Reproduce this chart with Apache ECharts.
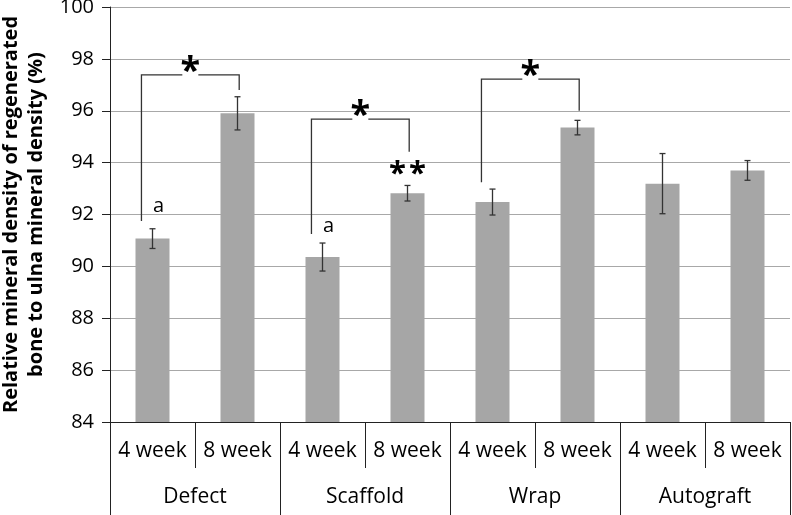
<html>
    <head>
        <meta charset="utf-8">
        <script src="https://cdn.jsdelivr.net/npm/echarts@6/dist/echarts.min.js"></script>
    </head>
    <body style="margin:0">
        <style>
            html, body, #main {
                width: 792px;
                height: 515px;
                margin: 0;
            }
        </style>
        <div id="main"></div>
        <script>
            var weeks = ['4 week', '8 week', '4 week', '8 week', '4 week', '8 week', '4 week', '8 week'];
            var groups = ['Defect', 'Scaffold', 'Wrap', 'Autograft'];
            var means = [91.07, 95.90, 90.36, 92.82, 92.48, 95.35, 93.19, 93.70];
            var errors = [0.38, 0.64, 0.54, 0.30, 0.50, 0.28, 1.16, 0.38];

            // significance brackets: left bar, right bar, left foot, top, right foot
            var bracketLeft = [0, 2, 4];
            var bracketRight = [1, 3, 5];
            var bracketLeftFoot = [91.75, 91.25, 93.24];
            var bracketTop = [97.38, 95.68, 97.22];
            var bracketRightFoot = [96.8, 94.42, 96.0];

            // letter / star marks above bars
            var markBar = [0, 2, 3];
            var markValue = [92.33, 91.56, 93.55];
            var markText = ['a', 'a', '**'];

            var font = '"Open Sans", sans-serif';
            var chart = echarts.init(document.getElementById('main'));

            var errData = means.map(function (m, i) {
                return [i, m - errors[i], m + errors[i]];
            });
            var bracketData = bracketLeft.map(function (l, i) {
                return [l, bracketRight[i], bracketLeftFoot[i], bracketTop[i], bracketRightFoot[i]];
            });
            var markData = markBar.map(function (b, i) {
                return [b, markValue[i], markText[i]];
            });

            chart.setOption({
                animation: false,
                grid: { left: 110, right: 2, top: 7, bottom: 93, outerBoundsMode: 'none', containLabel: false },
                xAxis: [
                    {
                        type: 'category',
                        data: weeks,
                        position: 'bottom',
                        axisLine: { show: true, lineStyle: { color: '#222', width: 1 } },
                        axisTick: { show: true, interval: 0, length: 46, lineStyle: { color: '#222' } },
                        axisLabel: { interval: 0, margin: 19, color: '#000', fontSize: 21, fontFamily: font }
                    },
                    {
                        type: 'category',
                        data: groups,
                        position: 'bottom',
                        axisLine: { show: false },
                        axisTick: { show: true, interval: 0, length: 93, lineStyle: { color: '#222' } },
                        axisLabel: { interval: 0, margin: 65, color: '#000', fontSize: 21, fontFamily: font }
                    }
                ],
                yAxis: {
                    type: 'value',
                    min: 84,
                    max: 100,
                    interval: 2,
                    name: 'Relative mineral density of regenerated\nbone to ulna mineral density (%)',
                    nameLocation: 'middle',
                    nameRotate: 90,
                    nameGap: 55,
                    nameTextStyle: {
                        color: '#000', fontSize: 20, fontWeight: 'bold', fontFamily: font, lineHeight: 25
                    },
                    axisLine: { show: true, lineStyle: { color: '#222' } },
                    axisTick: { show: true, length: 8, lineStyle: { color: '#222' } },
                    axisLabel: { margin: 16, color: '#000', fontSize: 20, fontFamily: font },
                    splitLine: { lineStyle: { color: '#a8a8a8', width: 1.2 } }
                },
                series: [
                    {
                        type: 'bar',
                        data: means,
                        barWidth: '40%',
                        itemStyle: { color: '#a6a6a6' }
                    },
                    {
                        type: 'custom',
                        data: errData,
                        z: 5,
                        renderItem: function (params, api) {
                            var lo = api.coord([api.value(0), api.value(1)]);
                            var hi = api.coord([api.value(0), api.value(2)]);
                            var w = 3;
                            var st = { stroke: '#333', lineWidth: 1.3 };
                            return {
                                type: 'group',
                                children: [
                                    { type: 'line', shape: { x1: hi[0], y1: hi[1], x2: lo[0], y2: lo[1] }, style: st },
                                    { type: 'line', shape: { x1: hi[0] - w, y1: hi[1], x2: hi[0] + w, y2: hi[1] }, style: st },
                                    { type: 'line', shape: { x1: lo[0] - w, y1: lo[1], x2: lo[0] + w, y2: lo[1] }, style: st }
                                ]
                            };
                        }
                    },
                    {
                        type: 'custom',
                        data: bracketData,
                        z: 5,
                        renderItem: function (params, api) {
                            var band = api.size([1, 0])[0];
                            var lf = api.coord([api.value(0), api.value(2)]);
                            var rf = api.coord([api.value(1), api.value(4)]);
                            var top = api.coord([api.value(0), api.value(3)])[1];
                            var x1 = lf[0] - band * 0.13;
                            var x2 = rf[0] + band * 0.02;
                            var mid = (x1 + x2) / 2;
                            var gap = 8;
                            var st = { stroke: '#333', lineWidth: 1.3, fill: null };
                            return {
                                type: 'group',
                                children: [
                                    { type: 'polyline', shape: { points: [[x1, lf[1]], [x1, top], [mid - gap, top]] }, style: st },
                                    { type: 'polyline', shape: { points: [[mid + gap, top], [x2, top], [x2, rf[1]]] }, style: st },
                                    {
                                        type: 'text',
                                        x: mid, y: top - 3,
                                        style: {
                                            text: '*', fill: '#000', fontSize: 36, fontWeight: 'bold', fontFamily: font,
                                            align: 'center', verticalAlign: 'middle'
                                        }
                                    }
                                ]
                            };
                        }
                    },
                    {
                        type: 'custom',
                        data: markData,
                        z: 5,
                        renderItem: function (params, api) {
                            var p = api.coord([api.value(0), api.value(1)]);
                            var t = api.value(2);
                            var star = t.indexOf('*') >= 0;
                            return {
                                type: 'text',
                                x: p[0] + (star ? 0 : 6),
                                y: p[1],
                                style: {
                                    text: star ? t.split('').join('\u200A') : t,
                                    fill: '#000', fontFamily: font,
                                    fontSize: star ? 31 : 20, fontWeight: star ? 'bold' : 'normal',
                                    align: 'center', verticalAlign: 'middle'
                                }
                            };
                        }
                    }
                ]
            });
        </script>
    </body>
</html>
